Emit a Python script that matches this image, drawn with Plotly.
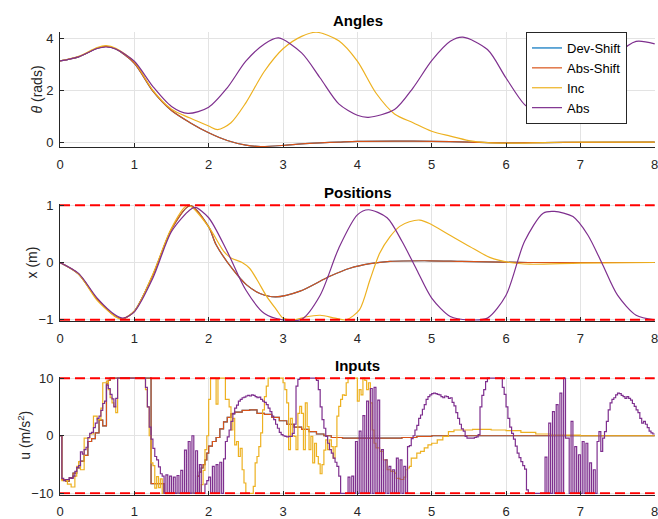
import numpy as np
import plotly.graph_objects as go

# ---------------- data ----------------
# Angles (rad)
t_ang_shift = [0, 0.25, 0.5, 0.62, 0.75, 1.0, 1.25, 1.5, 1.75, 2.0, 2.25, 2.5, 2.7, 3.0, 3.25, 3.5, 3.75, 4.0, 4.5, 5.0, 5.5, 6.0, 6.5, 7.0, 8.0]
ang_shift = [3.14, 3.3, 3.63, 3.7, 3.6, 3.05, 1.97, 1.22, 0.75, 0.36, 0.06, -0.12, -0.17, -0.13, -0.07, -0.03, 0.0, 0.03, 0.04, 0.03, 0.0, -0.03, -0.02, -0.01, 0.0]

t_ang_inc = [0, 0.25, 0.5, 0.62, 0.75, 1.0, 1.25, 1.5, 1.75, 2.0, 2.12, 2.3, 2.5, 2.75, 3.0, 3.25, 3.45, 3.75, 4.0, 4.25, 4.5, 4.75, 5.0, 5.25, 5.5, 5.75, 6.0, 6.5, 7.0, 8.0]
ang_inc = [3.14, 3.32, 3.66, 3.73, 3.63, 3.1, 2.0, 1.27, 0.93, 0.62, 0.48, 0.75, 1.52, 2.74, 3.61, 4.09, 4.25, 3.92, 3.13, 1.9, 1.09, 0.75, 0.42, 0.23, 0.06, -0.02, -0.04, -0.02, 0.0, 0.0]

t_ang_abs = [0, 0.25, 0.5, 0.62, 0.75, 1.0, 1.25, 1.5, 1.72, 2.0, 2.25, 2.5, 2.75, 2.94, 3.25, 3.5, 3.75, 4.0, 4.15, 4.5, 4.75, 5.0, 5.25, 5.42, 5.75, 6.0, 6.25, 6.5, 6.68, 7.0, 7.25, 7.5, 7.75, 8.0]
ang_abs = [3.14, 3.3, 3.62, 3.68, 3.6, 3.13, 2.15, 1.38, 1.11, 1.35, 2.1, 3.13, 3.8, 4.03, 3.45, 2.48, 1.48, 1.04, 0.96, 1.26, 2.1, 3.15, 3.9, 4.06, 3.58, 2.48, 1.45, 1.0, 0.92, 1.4, 2.5, 3.4, 3.9, 3.8]

# Positions (m)
t_pos_shift = [0, 0.25, 0.5, 0.75, 0.85, 1.0, 1.25, 1.5, 1.75, 2.0, 2.1, 2.33, 2.51, 2.69, 2.9, 3.23, 3.63, 3.9, 4.17, 4.44, 4.97, 5.4, 6.3, 8.0]
pos_shift = [0, -0.2, -0.64, -0.94, -0.98, -0.85, -0.22, 0.58, 0.99, 0.62, 0.31, -0.13, -0.39, -0.54, -0.6, -0.5, -0.24, -0.1, -0.02, 0.02, 0.03, 0.02, 0.0, 0.0]

t_pos_inc = [0, 0.25, 0.5, 0.75, 0.82, 1.0, 1.25, 1.5, 1.72, 2.0, 2.2, 2.3, 2.45, 2.55, 2.65, 2.78, 2.91, 3.0, 3.15, 3.3, 3.5, 3.7, 3.85, 4.03, 4.17, 4.3, 4.44, 4.57, 4.7, 4.84, 4.97, 5.24, 5.51, 5.78, 6.05, 6.32, 7.0, 8.0]
pos_inc = [0, -0.2, -0.66, -0.95, -0.99, -0.85, -0.2, 0.6, 1.0, 0.62, 0.2, 0.08, 0.0, -0.1, -0.3, -0.59, -0.82, -0.97, -1.0, -0.95, -0.92, -0.97, -1.0, -0.82, -0.3, 0.16, 0.45, 0.63, 0.71, 0.74, 0.68, 0.48, 0.28, 0.09, 0.0, -0.03, -0.01, 0.0]

t_pos_abs = [0, 0.25, 0.5, 0.75, 0.85, 1.0, 1.25, 1.5, 1.75, 1.82, 2.0, 2.25, 2.5, 2.75, 3.0, 3.25, 3.5, 3.75, 4.0, 4.15, 4.4, 4.6, 4.8, 5.0, 5.25, 5.5, 5.75, 6.0, 6.25, 6.5, 6.65, 6.9, 7.1, 7.3, 7.5, 7.75, 8.0]
pos_abs = [0, -0.19, -0.62, -0.92, -0.97, -0.86, -0.27, 0.54, 0.92, 0.96, 0.78, 0.19, -0.48, -0.89, -1.0, -0.99, -0.57, 0.25, 0.83, 0.92, 0.78, 0.37, -0.13, -0.62, -0.94, -1.0, -0.97, -0.57, 0.37, 0.86, 0.89, 0.8, 0.48, -0.04, -0.57, -0.92, -1.0]

pos_limits = [-1, 1]

# Inputs (m/s^2)
t_u_shift = [0, 0.025, 0.075, 0.125, 0.175, 0.225, 0.275, 0.325, 0.375, 0.425, 0.475, 0.525, 0.575, 0.625, 0.65, 0.675, 1.225, 1.4, 1.85, 1.875, 1.9, 1.925, 1.95, 1.975, 2.0, 2.05, 2.1, 2.15, 2.2, 2.25, 2.3, 2.35, 2.45, 2.55, 2.65, 2.75, 2.85, 2.95, 3.05, 3.15, 3.25, 3.35, 3.45, 3.55, 3.65, 3.8, 4.6, 4.8, 5.0, 5.5, 8.0]
u_shift = [0, -7.6, -7.9, -7.3, -6.5, -5.6, -4.4, -3.4, -1.0, -0.5, 0.5, 2.7, 1.7, 9.0, 9.6, 10, -8.3, -10, -7.0, -6.3, -5.6, -5.0, -4.2, -3.0, -1.8, -1.0, -0.3, 1.2, 2.4, 3.2, 3.8, 4.1, 4.4, 4.5, 3.9, 3.7, 3.2, 2.6, 2.0, 1.5, 1.1, 0.7, 0.3, 0.0, -0.3, -0.4, -0.3, -0.1, 0.0, 0.0, 0.0]

t_u_inc = [0, 0.025, 0.1, 0.15, 0.2, 0.225, 0.25, 0.275, 0.325, 0.4, 0.45, 0.5, 0.55, 0.575, 0.625, 0.65, 0.675, 0.7, 0.725, 0.75, 0.775, 1.15, 1.175, 1.2, 1.225, 1.25, 1.275, 1.3, 1.325, 1.35, 1.375, 1.9, 1.925, 1.95, 1.975, 2.0, 2.025, 2.05, 2.1, 2.125, 2.225, 2.275, 2.3, 2.325, 2.35, 2.375, 2.4, 2.425, 2.45, 2.475, 2.5, 2.6, 2.625, 2.65, 2.675, 2.7, 2.725, 2.75, 2.775, 2.8, 3.0, 3.025, 3.05, 3.075, 3.1, 3.125, 3.15, 3.175, 3.2, 3.225, 3.25, 3.275, 3.3, 3.325, 3.35, 3.375, 3.4, 3.425, 3.45, 3.475, 3.5, 3.525, 3.55, 3.575, 3.6, 3.625, 3.65, 3.675, 3.7, 3.725, 3.75, 3.775, 3.8, 3.825, 3.85, 3.875, 4.0, 4.025, 4.05, 4.075, 4.1, 4.125, 4.15, 4.175, 4.2, 4.225, 4.25, 4.3, 4.35, 4.4, 4.45, 4.5, 4.525, 4.575, 4.625, 4.65, 4.675, 4.7, 4.725, 4.8, 4.85, 4.9, 4.95, 5.0, 5.075, 5.15, 5.225, 5.3, 5.55, 5.8, 6.0, 6.2, 6.4, 6.6, 7.0, 8.0]
u_inc = [0, -7.8, -8.4, -8.9, -7.0, -5.3, -4.5, -5.9, -0.4, 0.3, 3.4, 2.8, 4.8, 9.2, 9.5, 8.0, 6.6, 5.7, 5.1, 4.0, 10, 8.0, 5.0, 0.0, -4.7, -5.2, -9.1, -7.1, -9.0, -7.5, -10, -8.5, -6.0, -2.4, 0.0, 6.3, 10, 10, 5.5, 10, 6.3, 5.0, 1.0, 3.0, -1.6, -1.0, -3.6, -2.2, -5.9, -8.2, -10, -8.8, -4.7, -3.6, -1.9, 0.5, 4.5, 6.8, 8.6, 10, 9.2, 8.0, 5.7, -2.4, 3.0, 0.0, -0.1, -2.4, 3.9, 5.1, 3.9, -2.4, 5.7, 1.6, -2.4, -0.1, -4.7, -1.3, -3.6, -4.9, -6.6, -5.0, -2.5, -0.7, -2.4, -0.7, -1.9, -3.9, -1.9, 3.4, 5.1, 6.3, 7.1, 7.0, 9.2, 10, 6.0, 8.0, 7.1, 10, 9.6, 8.0, 9.2, 5.7, 1.0, -1.3, -2.1, -2.7, -4.2, -5.9, -6.2, -6.5, -7.4, -7.6, -7.2, -5.9, -5.6, -5.3, -3.9, -3.0, -2.7, -2.1, -1.6, -1.3, -0.7, -0.1, 0.7, 1.0, 1.1, 1.0, 0.9, 0.6, 0.3, 0.1, 0.0, 0.0]

u_dt_abs = 0.025
u_abs = [
    0, -7.4, -7.8, -7.6, -7.6, -7.3, -7.4, -7.0, -6.2, -5.5,
    -5.2, -2.8, -3.2, -2.4, -2.0, -0.3, 0.4, 0.6, 1.4, 2.2,
    3.0, 3.4, 4.4, 5.6, 6.0, 8.8, 8.2, 7.2, 6.4, 5.0,
    6.5, 10, 10, 10, 10, 10, 10, 10, 10, 10,
    10, 10, 10, 10, 10, 10, 8.4, 5.0, 1.5, -0.6,
    -2.2, -3.6, -4.2, -5.4, -6.6, -7.0, -10, -6.8, -10, -7.0,
    -10, -7.2, -10, -6.9, -10, -6.0, -10, -2.5, -10, -1.0,
    -10, 0.0, -10, -2.6, -10, -5.0, -10, -10, -8.4, -7.8,
    -7.2, -10, -5.3, -10, -5.0, -10, -4.6, -10, -4.0, -1.0,
    -0.2, 1.0, 2.5, 3.9, 4.8, 5.3, 6.0, 6.3, 6.6, 6.7,
    6.9, 7.0, 6.9, 7.1, 7.0, 6.8, 6.6, 6.7, 6.3, 6.0,
    5.8, 5.4, 4.8, 4.2, 3.4, 2.8, 2.0, 1.3, 0.6, 0.2,
    0.0, -0.1, -0.2, -0.1, -0.1, 0.4, 2.0, 8.6, 9.8, 10,
    10, 10, 10, 10, 10, 10, 10, 10, 9.6, 8.0,
    5.0, 2.8, 1.3, -0.1, -1.3, -2.4, -3.0, -3.9, -4.6, -5.3,
    -7.0, -10, -10, -10, -10, -7.2, -10, -7.0, -10, -1.0,
    -10, 0.8, -10, 3.5, -10, 6.0, -10, 8.2, -10, 8.4,
    -10, 6.2, -10, -2.4, -10, -4.2, -10, -5.3, -10, -5.9,
    -10, -3.9, -10, -4.2, -10, -5.3, -10, -1.9, -1.7, -0.5,
    0.0, 1.0, 1.8, 3.0, 3.6, 4.6, 5.4, 6.3, 6.8, 7.1,
    7.3, 7.4, 7.3, 7.2, 7.1, 6.8, 6.6, 6.9, 6.8, 6.5,
    6.6, 5.8, 5.2, 4.0, 3.0, 2.0, 1.2, 0.8, -0.1, -0.4,
    -0.4, -0.4, -0.4, -0.3, -0.2, 0.2, 5.0, 7.0, 8.0, 9.4,
    10, 10, 10, 10, 10, 10, 10, 10, 8.4, 7.2,
    5.0, 3.0, 1.5, 0.4, -0.6, -1.8, -3.0, -3.8, -4.5, -5.2,
    -5.8, -9.4, -10, -10, -10, -10, -10, -10, -10, -10,
    -10, -3.7, -10, 2.2, -10, 4.2, -10, 5.4, -10, 7.4,
    -10, 10, -0.4, -0.4, -10, 2.5, -10, -1.9, -10, -3.3,
    -10, -1.0, -10, -1.3, -10, -4.7, -10, -5.9, -10, -1.0,
    0.7, -2.7, -0.4, 0.7, 2.5, 4.5, 5.7, 6.3, 6.6, 7.1,
    7.4, 7.3, 7.0, 6.8, 6.5, 6.8, 6.5, 6.2, 5.6, 5.1,
    4.5, 4.0, 3.0, 2.2, 2.5, 2.0, 1.4, 0.8, 0.5, 0.3,
    0.3,
]
t_u_abs = list(np.arange(len(u_abs)) * u_dt_abs)

u_limits = [-10, 10]

series_names = ["Dev-Shift", "Abs-Shift", "Inc", "Abs"]
colors = {"Dev-Shift": "#0072BD", "Abs-Shift": "#D95319", "Inc": "#EDB120", "Abs": "#7E2F8E"}

# ---------------- figure ----------------
W, H = 658, 519
fig = go.Figure()
LW = 1.2

def add(name, x, y, row, shape, legend):
    xa = "x" if row == 1 else f"x{row}"
    ya = "y" if row == 1 else f"y{row}"
    line = dict(color=colors[name], width=LW, shape=shape)
    if shape == "spline":
        line["smoothing"] = 0.8
    fig.add_trace(go.Scatter(x=x, y=y, mode="lines", name=name, line=line,
                             xaxis=xa, yaxis=ya, showlegend=legend,
                             legendgroup=name, hoverinfo="skip"))

ang = {"Dev-Shift": (t_ang_shift, ang_shift), "Abs-Shift": (t_ang_shift, ang_shift),
       "Inc": (t_ang_inc, ang_inc), "Abs": (t_ang_abs, ang_abs)}
pos = {"Dev-Shift": (t_pos_shift, pos_shift), "Abs-Shift": (t_pos_shift, pos_shift),
       "Inc": (t_pos_inc, pos_inc), "Abs": (t_pos_abs, pos_abs)}
inp = {"Dev-Shift": (t_u_shift, u_shift), "Abs-Shift": (t_u_shift, u_shift),
       "Inc": (t_u_inc, u_inc), "Abs": (t_u_abs, u_abs)}

for n in series_names:
    add(n, *ang[n], 1, "spline", True)
for n in series_names:
    add(n, *pos[n], 2, "spline", False)
for n in series_names:
    add(n, *inp[n], 3, "hv", False)

# limit lines
dash = dict(color="#FF0000", width=2, dash="10px,5px")
for lim in pos_limits:
    fig.add_trace(go.Scatter(x=[0, 8], y=[lim, lim], mode="lines", xaxis="x2", yaxis="y2",
                             line=dash, showlegend=False, hoverinfo="skip"))
for lim in u_limits:
    fig.add_trace(go.Scatter(x=[0, 8], y=[lim, lim], mode="lines", xaxis="x3", yaxis="y3",
                             line=dash, showlegend=False, hoverinfo="skip"))

L, R = 60, 655
def ydom(top, bot):
    return [1 - bot / H, 1 - top / H]

FONT = "Liberation Sans, Arial, sans-serif"
axis_font = dict(family=FONT, size=13, color="#262626")
common_x = dict(range=[0, 8.004], tickvals=list(range(9)), showgrid=True, gridcolor="#e3e3e3",
                gridwidth=1, showline=True, linecolor="#262626", linewidth=1, ticks="inside",
                ticklen=4, tickcolor="#262626", zeroline=False, tickfont=axis_font,
                ticklabeloverflow="allow", ticklabelstandoff=5, fixedrange=True)
common_y = dict(showgrid=True, gridcolor="#e3e3e3", gridwidth=1, showline=True,
                linecolor="#262626", linewidth=1, ticks="inside", ticklen=4,
                tickcolor="#262626", zeroline=False, tickfont=axis_font,
                ticklabelstandoff=3, fixedrange=True)

doms = [(32, 147), (204, 321), (377, 494.5)]
fig.update_layout(
    width=W, height=H,
    margin=dict(l=L, r=W - R, t=0, b=0, autoexpand=False),
    paper_bgcolor="white", plot_bgcolor="white",
    font=dict(family=FONT, color="#262626"),
    xaxis=dict(common_x, domain=[0, 1], anchor="y"),
    yaxis=dict(common_y, domain=ydom(*doms[0]), range=[-0.19, 4.26], tickvals=[0, 2, 4], anchor="x"),
    xaxis2=dict(common_x, domain=[0, 1], anchor="y2"),
    yaxis2=dict(common_y, domain=ydom(*doms[1]), range=[-1.02, 1.02], tickvals=[-1, 0, 1], anchor="x2"),
    xaxis3=dict(common_x, domain=[0, 1], anchor="y3"),
    yaxis3=dict(common_y, domain=ydom(*doms[2]), range=[-10.2, 10.2], tickvals=[-10, 0, 10], anchor="x3"),
    legend=dict(x=(526 - L) / (R - L), y=1 - 32 / H, xanchor="left", yanchor="top",
                bgcolor="white", bordercolor="#262626", borderwidth=1,
                font=dict(family=FONT, size=13, color="#000000"),
                tracegroupgap=0, entrywidth=90),
    showlegend=True,
)

titles = [("Angles", 20), ("Positions", 192), ("Inputs", 365)]
for txt, yp in titles:
    fig.add_annotation(text=f"<b>{txt}</b>", xref="paper", yref="paper", x=0.5, y=1 - yp / H,
                       xanchor="center", yanchor="middle", showarrow=False,
                       font=dict(family=FONT, size=15, color="#000000"))

ylabels = [("<i>θ</i> (rads)", 36, doms[0]), ("x (m)", 31, doms[1]), ("u (m/s<sup>2</sup>)", 24, doms[2])]
for txt, xp, (tp, bp) in ylabels:
    fig.add_annotation(text=txt, xref="paper", yref="paper", x=(xp - L) / (R - L),
                       y=1 - (tp + bp) / 2 / H, xanchor="center", yanchor="middle",
                       textangle=-90, showarrow=False,
                       font=dict(family=FONT, size=14, color="#262626"))

fig.write_html("out.html")
